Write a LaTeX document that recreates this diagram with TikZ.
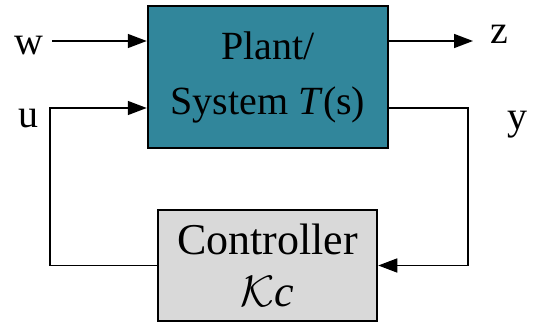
\documentclass[tikz,border=0pt]{standalone}
\usepackage{fix-cm}
\usepackage{fontspec}
\setmainfont{Liberation Serif}
\usepackage{xcolor}
\usetikzlibrary{arrows.meta,positioning,calc}
\definecolor{plantteal}{HTML}{31869B}
\definecolor{ctrlgray}{HTML}{D9D9D9}
\tikzset{
  sysbox/.style={rectangle,draw,line width=2.5pt,inner sep=0pt,align=center},
  plantbox/.style={sysbox,fill=plantteal,minimum width=240pt,minimum height=142pt,font=\fontsize{40}{55}\selectfont},
  ctrlbox/.style={sysbox,fill=ctrlgray,minimum width=219pt,minimum height=111pt,font=\fontsize{44}{52}\selectfont},
  siglabel/.style={inner sep=0pt,font=\fontsize{40}{48}\selectfont},
  sigarrow/.style={-{Triangle[length=19pt,width=14pt]},line width=1.5pt}
}

\begin{document}
\begin{tikzpicture}[x=1pt,y=-1pt]
  \useasboundingbox (0,0) rectangle (541,326);
  \node[plantbox] (plant) at (268,77) {Plant/\\System \textit{T}(s)};
  \node[ctrlbox] (ctrl) at (267.5,265.5) {Controller\\$\mathcal{K}$\textit{c}};
  \node[siglabel,anchor=base] (w) at (29,55) {w};
  \node[siglabel,anchor=base] (u) at (28,128) {u};
  \node[siglabel,anchor=base] (z) at (499,44) {z};
  \node[siglabel,anchor=base] (y) at (517,130) {y};
  \coordinate (win) at (52,41);
  \coordinate (zout) at (473,41);
  \coordinate (ucorner) at (50,108);
  \coordinate (ycorner) at (468,108);
  \draw[sigarrow] (win) -- (win -| plant.west);
  \draw[sigarrow] (plant.east |- zout) -- (zout);
  \draw[sigarrow] (ycorner -| plant.east) -- (ycorner) |- (ctrl.east);
  \draw[sigarrow] (ctrl.west) -| (ucorner) -- (ucorner -| plant.west);
\end{tikzpicture}
\end{document}
